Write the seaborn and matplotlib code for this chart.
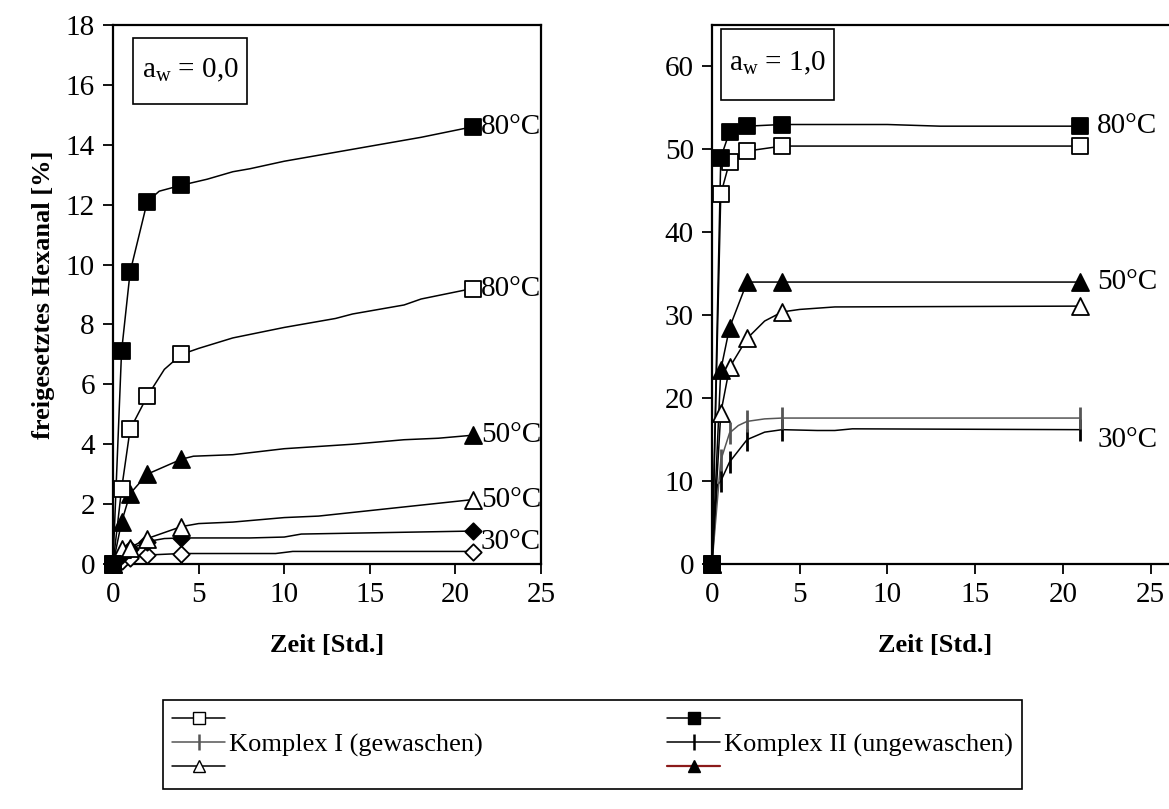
import numpy as np
import seaborn as sns
import matplotlib.pyplot as plt
from matplotlib.lines import Line2D
from matplotlib.patches import Rectangle

# measured times [h]
t_meas = [0, 0.5, 1, 2, 4, 21]

# a_w = 0,0 : marker values
sq_open_0 = [0, 2.5, 4.5, 5.6, 7.0, 9.2]
sq_fill_0 = [0, 7.1, 9.75, 12.1, 12.65, 14.6]
tri_open_0 = [0, 0.5, 0.55, 0.85, 1.25, 2.15]
tri_fill_0 = [0, 1.4, 2.35, 3.0, 3.5, 4.3]
dia_fill_0 = [0, 0.3, 0.5, 0.75, 0.87, 1.1]
dia_open_0 = [0, 0.1, 0.2, 0.3, 0.35, 0.4]
dia_fill_0_err = 0.87

# a_w = 0,0 : curve points
c_sq_fill_0_t = [0, 0.5, 1, 2, 2.7, 4, 5.5, 7, 8, 10, 14, 18, 21]
c_sq_fill_0_y = [0, 7.1, 9.75, 12.1, 12.45, 12.65, 12.85, 13.1, 13.2, 13.45, 13.85, 14.25, 14.6]
c_sq_open_0_t = [0, 0.5, 1, 2, 3, 4, 5, 7, 10, 13, 14, 17, 18, 21]
c_sq_open_0_y = [0, 2.5, 4.5, 5.6, 6.5, 7.0, 7.2, 7.55, 7.9, 8.2, 8.35, 8.65, 8.85, 9.2]
c_tri_fill_0_t = [0, 0.5, 1, 2, 4, 4.7, 7, 10, 14, 17, 19, 21]
c_tri_fill_0_y = [0, 1.4, 2.35, 3.0, 3.5, 3.6, 3.65, 3.85, 4.0, 4.15, 4.2, 4.3]
c_tri_open_0_t = [0, 0.5, 1, 2, 3, 4, 5, 7, 10, 12, 21]
c_tri_open_0_y = [0, 0.5, 0.55, 0.85, 1.05, 1.25, 1.35, 1.4, 1.55, 1.6, 2.15]
c_dia_fill_0_t = [0, 0.5, 1, 2, 3, 4, 8, 10, 11, 18, 21]
c_dia_fill_0_y = [0, 0.3, 0.5, 0.75, 0.85, 0.87, 0.87, 0.9, 1.0, 1.07, 1.1]
c_dia_open_0_t = [0, 0.5, 1, 2, 4, 9.5, 10.5, 21]
c_dia_open_0_y = [0, 0.1, 0.2, 0.3, 0.35, 0.35, 0.42, 0.42]

# a_w = 1,0 : marker values
sq_open_1 = [0, 44.6, 48.5, 49.8, 50.4, 50.4]
sq_fill_1 = [0, 49.0, 52.1, 52.8, 53.0, 52.8]
tri_open_1 = [0, 18.2, 23.7, 27.2, 30.4, 31.1]
tri_fill_1 = [0, 23.4, 28.5, 34.0, 34.0, 34.0]
komplex_1 = [0, 12.5, 15.8, 17.2, 17.6, 17.6]
komplex_2 = [0, 10.0, 12.3, 15.0, 16.2, 16.2]

# a_w = 1,0 : curve points
c_sq_fill_1_t = [0, 0.5, 1, 2, 4, 10, 13, 21]
c_sq_fill_1_y = [0, 49.0, 52.1, 52.8, 53.0, 53.0, 52.8, 52.8]
c_tri_open_1_t = [0, 0.5, 1, 2, 3, 4, 5, 7, 21]
c_tri_open_1_y = [0, 18.2, 23.7, 27.2, 29.3, 30.4, 30.7, 31.0, 31.1]
c_k1_t = [0, 0.5, 1, 1.5, 2, 3, 4, 21]
c_k1_y = [0, 12.5, 15.8, 16.7, 17.2, 17.5, 17.6, 17.6]
c_k2_t = [0, 0.3, 0.5, 1, 2, 3, 4, 6, 7, 8, 21]
c_k2_y = [0, 9.5, 10.0, 12.3, 15.0, 15.9, 16.2, 16.1, 16.1, 16.3, 16.2]

temp_labels_0 = [("80°C", 14.6), ("80°C", 9.2), ("50°C", 4.3), ("50°C", 2.15), ("30°C", 0.75)]
temp_labels_1 = [("80°C", 52.8), ("50°C", 34.0), ("30°C", 15.0)]

sns.set_theme(style="ticks")
plt.rcParams['font.family'] = ['Liberation Serif', 'DejaVu Serif']
plt.rcParams['mathtext.fontset'] = 'custom'
plt.rcParams['mathtext.rm'] = 'Liberation Serif'
plt.rcParams['mathtext.it'] = 'Liberation Serif:italic'
plt.rcParams['text.color'] = 'black'
plt.rcParams['axes.labelcolor'] = 'black'

fig = plt.figure(figsize=(11.69, 8.09), dpi=100)
W, H = 1169, 809
ax0 = fig.add_axes([113 / W, 1 - 564 / H, 428 / W, 539 / H])
ax1 = fig.add_axes([712 / W, 1 - 564 / H, 465 / W, 539 / H])

LW = 1.1
MS_SQ = 130
MS_TRI = 150
K = 'black'
GREY = '#555555'


def curve(ax, t, y, color=K):
    sns.lineplot(x=t, y=y, ax=ax, color=color, linewidth=LW, estimator=None, sort=False, zorder=2)


def marks(ax, y, marker, face, s, edge=K, lw=1.3):
    sns.scatterplot(x=t_meas, y=y, ax=ax, marker=marker, s=s, color=face,
                    edgecolor=edge, linewidth=lw, zorder=4, clip_on=False)


# ---- left panel (a_w = 0,0)
curve(ax0, c_dia_open_0_t, c_dia_open_0_y)
curve(ax0, c_dia_fill_0_t, c_dia_fill_0_y)
curve(ax0, c_tri_open_0_t, c_tri_open_0_y)
curve(ax0, c_tri_fill_0_t, c_tri_fill_0_y)
curve(ax0, c_sq_open_0_t, c_sq_open_0_y)
curve(ax0, c_sq_fill_0_t, c_sq_fill_0_y)
ax0.errorbar([t_meas[4]], [dia_fill_0[4]], yerr=[[dia_fill_0_err], [0]], fmt='none',
             ecolor=K, elinewidth=2.2, capsize=0, zorder=3)
marks(ax0, dia_open_0, 'D', 'white', 70)
marks(ax0, dia_fill_0, 'D', K, 70)
marks(ax0, tri_open_0, '^', 'white', MS_TRI)
marks(ax0, tri_fill_0, '^', K, MS_TRI)
marks(ax0, sq_open_0, 's', 'white', MS_SQ)
marks(ax0, sq_fill_0, 's', K, MS_SQ)

for txt, yv in temp_labels_0:
    ax0.annotate(txt, xy=(21, yv), xytext=(6, 0), textcoords='offset points',
                 ha='left', va='center', fontsize=21, color=K)

# ---- right panel (a_w = 1,0)
curve(ax1, c_k2_t, c_k2_y)
curve(ax1, c_k1_t, c_k1_y, GREY)
curve(ax1, c_tri_open_1_t, c_tri_open_1_y)
curve(ax1, t_meas, tri_fill_1)
curve(ax1, t_meas, sq_open_1)
curve(ax1, c_sq_fill_1_t, c_sq_fill_1_y)
sns.scatterplot(x=t_meas[1:], y=komplex_2[1:], ax=ax1, marker='|', s=260, color=K,
                linewidth=2.0, zorder=4)
sns.scatterplot(x=t_meas[1:], y=komplex_1[1:], ax=ax1, marker='|', s=260, color=GREY,
                linewidth=2.0, zorder=4)
marks(ax1, tri_open_1, '^', 'white', MS_TRI)
marks(ax1, tri_fill_1, '^', K, MS_TRI)
marks(ax1, sq_open_1, 's', 'white', MS_SQ)
marks(ax1, sq_fill_1, 's', K, MS_SQ)

for txt, yv in temp_labels_1:
    ax1.annotate(txt, xy=(21, yv), xytext=(12, 0), textcoords='offset points',
                 ha='left', va='center', fontsize=21, color=K)

# ---- axes styling
for ax, ymax, ystep in [(ax0, 18, 2), (ax1, 65, 10)]:
    ax.set_xlim(0, 25 if ax is ax0 else 26.5)
    ax.set_ylim(0, ymax)
    ax.set_xticks(range(0, 26, 5))
    ax.set_yticks(range(0, (60 if ax is ax1 else 18) + 1, ystep))
    ax.tick_params(direction='out', length=7, width=1.3, colors=K, labelcolor=K,
                   labelsize=21, pad=6)
    for sp in ax.spines.values():
        sp.set_linewidth(1.6)
        sp.set_color(K)
    ax.set_xlabel('Zeit [Std.]', fontsize=19, fontweight='bold', color=K)
    ax.set_facecolor('white')

ax1.spines['right'].set_visible(False)
ax1.xaxis.set_label_coords((935 - 712) / 465, -0.13)
ax0.xaxis.set_label_coords(0.5, -0.13)
ax0.set_ylabel('freigesetztes Hexanal [%]', fontsize=19, fontweight='bold', color=K,
               labelpad=8)
ax1.set_ylabel('')

# a_w boxes
for ax, txt, (x0, x1, y0, y1), (tx, ty) in [
        (ax0, 'a$_{\\rm w}$ = 0,0', (0.0467, 0.313, 0.853, 0.976), (0.18, 0.915)),
        (ax1, 'a$_{\\rm w}$ = 1,0', (0.019, 0.262, 0.861, 0.9926), (0.14, 0.928))]:
    ax.add_patch(Rectangle((x0, y0), x1 - x0, y1 - y0, transform=ax.transAxes,
                           facecolor='white', edgecolor=K, linewidth=1.2, zorder=5))
    ax.text(tx, ty, txt, transform=ax.transAxes, fontsize=21, ha='center', va='center',
            color=K, zorder=6)

# ---- legend (filled column-wise: left column first)
handles = [
    Line2D([], [], color=K, lw=LW, marker='s', mfc='white', mec=K, ms=8),
    Line2D([], [], color=GREY, lw=LW, marker='|', mec=GREY, ms=12, mew=1.8),
    Line2D([], [], color=K, lw=LW, marker='^', mfc='white', mec=K, ms=8),
    Line2D([], [], color=K, lw=LW, marker='s', mfc=K, mec=K, ms=8),
    Line2D([], [], color=K, lw=LW, marker='|', mec=K, ms=12, mew=1.8),
    Line2D([], [], color='#8b1a1a', lw=1.6, marker='^', mfc=K, mec=K, ms=8),
]
labels = ['', 'Komplex I (gewaschen)', '', '', 'Komplex II (ungewaschen)', '']
leg = fig.legend(handles, labels, loc='upper left', bbox_to_anchor=(163 / W, 1 - 700 / H),
                 ncol=2, fontsize=19, frameon=True, fancybox=False, framealpha=1,
                 edgecolor=K, borderaxespad=0, borderpad=0.35, labelspacing=0.0,
                 handlelength=2.0, handletextpad=0.15, columnspacing=7.0)
leg.get_frame().set_linewidth(1.2)
for t in leg.get_texts():
    t.set_color(K)

fig.savefig('out.png', dpi=100, facecolor='white')
